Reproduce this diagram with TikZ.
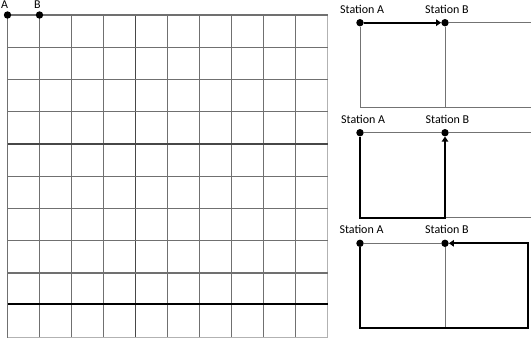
\documentclass[tikz,border=0pt]{standalone}
\usepackage{fontspec}
\setmainfont{Carlito}
\usetikzlibrary{arrows.meta}
\begin{document}
\begin{tikzpicture}[x=1pt,y=-1pt,
  gridline/.style={draw=black!56, line width=1.4pt},
  griddark/.style={draw=black!72, line width=1.4pt},
  gridedge/.style={draw=black!30, line width=1.2pt},
  gridbold/.style={draw=black, line width=1.8pt},
  dot/.style={circle, fill=black, inner sep=0pt, minimum size=7.4pt},
  lbl/.style={anchor=base west, inner sep=0pt, font=\fontsize{12pt}{14pt}\selectfont},
  thinline/.style={draw=black!55, line width=0.8pt},
  route/.style={draw=black, line width=2pt, line join=miter},
  routearrow/.style={route, -{Triangle[length=5pt,width=6.5pt]}}
]
\useasboundingbox (0,0) rectangle (531,343);
% ---------- main grid ----------
\foreach \i in {1,2,3,5,6,7,8,9}
  \draw[gridline] ({7.5+32*\i},15) -- ({7.5+32*\i},337.5);
\draw[griddark] (135.5,15) -- (135.5,337.5);
\draw[gridline] (7.5,15) -- (7.5,337.5);
\draw[gridedge] (327.5,15) -- (327.5,337.5);
\foreach \j in {0,1,2,3,5,6,7,8}
  \draw[gridline] (7.5,{15+32.25*\j}) -- (327.5,{15+32.25*\j});
\draw[griddark] (7.5,144) -- (327.5,144);
\draw[gridbold] (7.5,304.3) -- (327.5,304.3);
\draw[gridedge] (7.5,337.5) -- (327.5,337.5);
\node[dot] (gA) at (7.5,15) {};
\node[dot] (gB) at (39.5,15) {};
\node[lbl] (lgA) at (1,8.5) {A};
\node[lbl] (lgB) at (34,8.5) {B};
% ---------- panel 1 ----------
\node[dot] (pA1) at (360,22.7) {};
\node[dot] (pB1) at (445,22.7) {};
\coordinate (pR1) at (531,22.7);
\coordinate (pL1) at (360,107);
\coordinate (pM1) at (445,107);
\coordinate (pE1) at (531,107);
\node[lbl] (lA1) at (340,13.3) {Station A};
\node[lbl] (lB1) at (425,13.3) {Station B};
\draw[thinline] (pB1) -- (pR1);
\draw[thinline] (pA1) -- (pL1) -- (pE1);
\draw[thinline] (pB1) -- (pM1);
\draw[routearrow] (pA1) -- (pB1);
% ---------- panel 2 ----------
\node[dot] (pA2) at (360,132.7) {};
\node[dot] (pB2) at (445,132.7) {};
\coordinate (pR2) at (531,132.7);
\coordinate (pL2) at (360,217.7);
\coordinate (pM2) at (445,217.7);
\coordinate (pE2) at (531,217.7);
\node[lbl] (lA2) at (341,123.3) {Station A};
\node[lbl] (lB2) at (425.5,123.3) {Station B};
\draw[thinline] (pA2) -- (pB2) -- (pR2);
\draw[thinline] (pM2) -- (pE2);
\draw[routearrow] (pA2) -- (pL2) -- (pM2) -- (pB2);
% ---------- panel 3 ----------
\node[dot] (pA3) at (360,243.3) {};
\node[dot] (pB3) at (445,243.3) {};
\coordinate (pL3) at (360,328.3);
\coordinate (pM3) at (445,328.3);
\coordinate (pE3) at (527.7,328.3);
\coordinate (pT3) at (527.7,243.3);
\node[lbl] (lA3) at (339.3,233.3) {Station A};
\node[lbl] (lB3) at (425,233.3) {Station B};
\draw[thinline] (pA3) -- (pB3);
\draw[thinline] (pB3) -- (pM3);
\draw[routearrow] (pA3) -- (pL3) -- (pE3) -- (pT3) -- (pB3);
\end{tikzpicture}
\end{document}
